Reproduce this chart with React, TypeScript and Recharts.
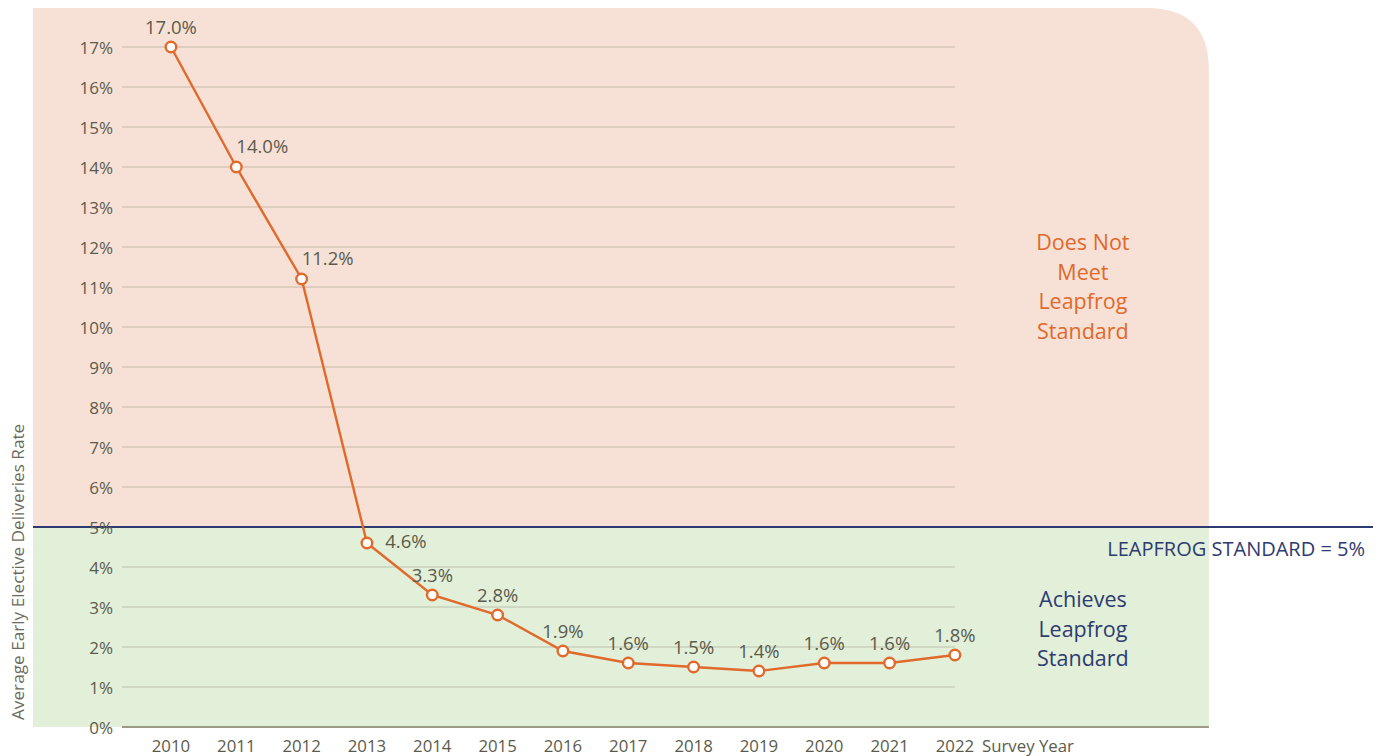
import {
  LineChart,
  Line,
  XAxis,
  YAxis,
  ReferenceArea,
  ReferenceLine,
  LabelList,
} from 'recharts';

const years = [2010, 2011, 2012, 2013, 2014, 2015, 2016, 2017, 2018, 2019, 2020, 2021, 2022];
const rates = [17.0, 14.0, 11.2, 4.6, 3.3, 2.8, 1.9, 1.6, 1.5, 1.4, 1.6, 1.6, 1.8];
const yTicks = [0, 1, 2, 3, 4, 5, 6, 7, 8, 9, 10, 11, 12, 13, 14, 15, 16, 17];
const standard = 5;

// axis extents (in data units) so the panel reaches past the last year
const X_MIN = 2007.888;
const X_MAX = 2028.4;
const PANEL_END = 2025.888;
const GRID_START = 2009.25;
const Y_TOP = 17.975;

const FONT = '"Open Sans", Lato, sans-serif';
const PINK = '#f7e1d6';
const GREEN = '#e2efd9';
const ORANGE = '#e0692b';
const NAVY = '#2e3b70';
const TEXT = '#5b5b4c';

const data = years.map((year, i) => ({ year, rate: rates[i] }));

function PinkPanel(props: any) {
  const { x, y, width, height } = props;
  const r = 62;
  const d = `M${x},${y + height} L${x},${y} L${x + width - r},${y} Q${x + width},${y} ${x + width},${y + r} L${x + width},${y + height} Z`;
  return <path d={d} fill={PINK} />;
}

function renderPointLabel(props: any) {
  const { x, y, value, index } = props;
  let dx = 0;
  let dy = -21;
  if (index === 1 || index === 2) {
    dx = 26;
    dy = -22;
  } else if (index === 3) {
    dx = 39;
    dy = -3;
  }
  return (
    <text
      x={x + dx}
      y={y + dy}
      textAnchor="middle"
      dominantBaseline="central"
      fill={TEXT}
      fontSize={18.5}
      fontFamily={FONT}
    >
      {`${Number(value).toFixed(1)}%`}
    </text>
  );
}

export default function App() {
  return (
    <div style={{ position: 'absolute', left: 0, top: 0 }}>
      <LineChart
        width={1382}
        height={756}
        data={data}
        margin={{ top: 8, right: 9, bottom: 0, left: 8 }}
      >
        <ReferenceArea
          x1={X_MIN}
          x2={PANEL_END}
          y1={standard}
          y2={Y_TOP}
          shape={<PinkPanel />}
          ifOverflow="visible"
          label={(p: any) => {
            const vb = p.viewBox;
            const cx = vb.x + vb.width - 126;
            return (
              <text fill={ORANGE} fontSize={21.5} fontFamily={FONT} textAnchor="middle">
                {['Does Not', 'Meet', 'Leapfrog', 'Standard'].map((t, i) => (
                  <tspan key={t} x={cx} y={250 + i * 29.7}>
                    {t}
                  </tspan>
                ))}
              </text>
            );
          }}
        />
        <ReferenceArea
          x1={X_MIN}
          x2={PANEL_END}
          y1={0}
          y2={standard}
          fill={GREEN}
          fillOpacity={1}
          ifOverflow="visible"
          label={(p: any) => {
            const vb = p.viewBox;
            const cx = vb.x + vb.width - 126;
            return (
              <text fill={NAVY} fontSize={21.5} fontFamily={FONT} textAnchor="middle">
                {['Achieves', 'Leapfrog', 'Standard'].map((t, i) => (
                  <tspan key={t} x={cx} y={607 + i * 29.7}>
                    {t}
                  </tspan>
                ))}
              </text>
            );
          }}
        />
        {yTicks.slice(1).map((v) => (
          <ReferenceLine
            key={v}
            segment={[
              { x: GRID_START, y: v },
              { x: 2022, y: v },
            ]}
            stroke="#8a8270"
            strokeOpacity={0.28}
            strokeWidth={1.3}
          />
        ))}
        <ReferenceLine
          segment={[
            { x: GRID_START, y: 0 },
            { x: PANEL_END, y: 0 },
          ]}
          stroke="#9c9886"
          strokeWidth={2}
        />
        <XAxis
          dataKey="year"
          type="number"
          domain={[X_MIN, X_MAX]}
          ticks={years}
          allowDataOverflow
          axisLine={false}
          tickLine={false}
          height={29}
          tick={(p: any) => (
            <text
              x={p.x}
              y={745}
              textAnchor="middle"
              dominantBaseline="central"
              fill={TEXT}
              fontSize={16.8}
              fontFamily={FONT}
            >
              {p.payload.value}
            </text>
          )}
          label={(p: any) => {
            const vb = p.viewBox;
            return (
              <text
                x={vb.x + 949}
                y={745}
                dominantBaseline="central"
                fill={TEXT}
                fontSize={16.8}
                fontFamily={FONT}
              >
                Survey Year
              </text>
            );
          }}
        />
        <YAxis
          type="number"
          domain={[0, Y_TOP]}
          ticks={yTicks}
          allowDataOverflow
          axisLine={false}
          tickLine={false}
          width={25}
          tick={(p: any) => (
            <text
              x={113}
              y={p.y}
              textAnchor="end"
              dominantBaseline="central"
              fill={TEXT}
              fontSize={17}
              fontFamily={FONT}
            >
              {`${p.payload.value}%`}
            </text>
          )}
          label={() => (
            <text
              x={17}
              y={720}
              transform="rotate(-90, 17, 720)"
              textAnchor="start"
              dominantBaseline="central"
              fill="#6b6b5c"
              fontSize={17.2}
              fontFamily={FONT}
            >
              Average Early Elective Deliveries Rate
            </text>
          )}
        />
        <ReferenceLine
          y={standard}
          stroke={NAVY}
          strokeWidth={2}
          label={(p: any) => {
            const vb = p.viewBox;
            return (
              <text
                x={vb.x + vb.width - 8}
                y={vb.y + 21}
                textAnchor="end"
                dominantBaseline="central"
                fill={NAVY}
                fontSize={20}
                fontFamily={FONT}
              >
                LEAPFROG STANDARD = 5%
              </text>
            );
          }}
        />
        <Line
          type="linear"
          dataKey="rate"
          stroke={ORANGE}
          strokeWidth={2.4}
          dot={{ r: 5.3, fill: '#fff', stroke: ORANGE, strokeWidth: 2.4 }}
          isAnimationActive={false}
        >
          <LabelList dataKey="rate" content={renderPointLabel} />
        </Line>
      </LineChart>
    </div>
  );
}
